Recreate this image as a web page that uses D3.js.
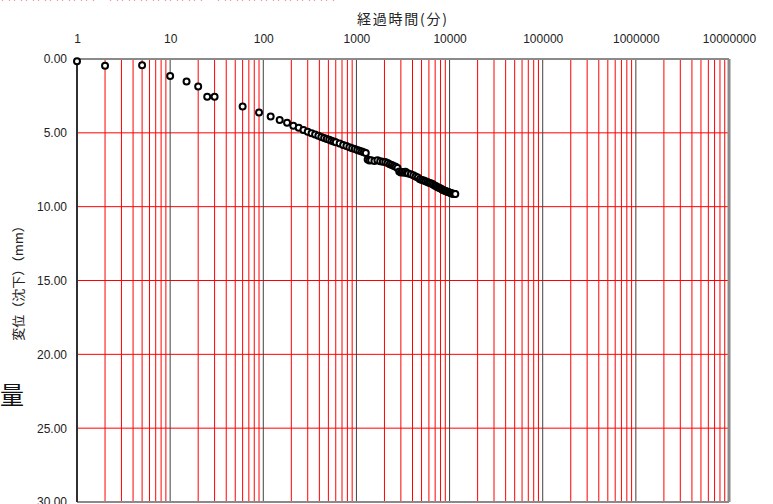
<!DOCTYPE html>
<html lang="ja">
<head>
<meta charset="UTF-8">
<title>経過時間と変位</title>
<script src="https://d3js.org/d3.v7.min.js"></script>
<style>
  body { margin: 0; background: #fff; }
  svg { display: block; font-family: "Liberation Sans", "Noto Sans CJK JP", sans-serif; }
</style>
</head>
<body>
<div id="chart"></div>
<script>
// elapsed time (min) and settlement (mm)
const times = [1, 2, 5, 10, 15, 20, 25, 30, 60, 90, 120, 150, 180, 210, 240, 270, 300, 330, 360, 390,
  420, 450, 480, 510, 540, 570, 600, 660, 720, 780, 840, 900, 960, 1020, 1080, 1140, 1200, 1260,
  1320, 1380, 1440, 1560, 1680, 1800, 1920, 2040, 2160, 2280, 2400, 2520, 2640, 2760, 2880, 3000,
  3120, 3240, 3360, 3480, 3600, 3840, 4080, 4320, 4560, 4800, 5040, 5280, 5520, 5760, 6000, 6240,
  6480, 6720, 6960, 7200, 7440, 7680, 7920, 8160, 8400, 8640, 8880, 9120, 9360, 9600, 9840, 10080,
  10320, 10560, 10800, 11040, 11280, 11520];
const settlement = [0.15, 0.45, 0.42, 1.15, 1.53, 1.87, 2.55, 2.55, 3.22, 3.62, 3.90, 4.13, 4.31, 4.52, 4.65, 4.80, 4.92, 5.02, 5.12, 5.20,
  5.28, 5.35, 5.41, 5.47, 5.53, 5.58, 5.64, 5.73, 5.82, 5.90, 5.97, 6.04, 6.10, 6.16, 6.22, 6.27, 6.32, 6.37,
  6.80, 6.88, 6.85, 6.90, 6.86, 6.92, 6.95, 6.98, 7.05, 7.12, 7.18, 7.25, 7.30, 7.38, 7.62, 7.68,
  7.66, 7.70, 7.64, 7.72, 7.75, 7.80, 7.88, 7.95, 8.02, 8.15, 8.20, 8.22, 8.28, 8.33, 8.38, 8.42,
  8.45, 8.52, 8.58, 8.62, 8.68, 8.72, 8.75, 8.80, 8.85, 8.88, 8.92, 8.95, 8.98, 9.00, 9.03, 9.05,
  9.07, 9.10, 9.12, 9.12, 9.14, 9.15];
const xTicks = [1, 10, 100, 1000, 10000, 100000, 1000000, 10000000];
const yTicks = [0, 5, 10, 15, 20, 25, 30];

const W = 773, H = 504;
const plot = { left: 77, right: 729, top: 59, bottom: 502 };

const svg = d3.select("#chart").append("svg")
  .attr("width", W).attr("height", H);

// red header text above, almost entirely outside the picture
svg.append("text")
  .attr("x", 0).attr("y", 0)
  .attr("fill", "#ee5555").attr("font-size", 12)
  .attr("font-family", "Noto Sans CJK JP, sans-serif")
  .text("日日日日日日日日　日日日日日日日日　日日日日日日日日日日");

const x = d3.scaleLog().domain([1, 1e7]).range([plot.left, plot.right]);
const y = d3.scaleLinear().domain([0, 30]).range([plot.top, plot.bottom]);

// minor vertical grid (red)
const minor = [];
for (let e = 0; e < 7; e++) {
  for (let k = 2; k <= 9; k++) minor.push(k * Math.pow(10, e));
}
svg.append("g").selectAll("line").data(minor).join("line")
  .attr("x1", d => x(d)).attr("x2", d => x(d))
  .attr("y1", plot.top).attr("y2", plot.bottom)
  .attr("stroke", "#ff0000").attr("stroke-width", 1);

// horizontal grid (red)
svg.append("g").selectAll("line").data(yTicks.slice(1, -1)).join("line")
  .attr("x1", plot.left).attr("x2", plot.right)
  .attr("y1", d => y(d)).attr("y2", d => y(d))
  .attr("stroke", "#ff0000").attr("stroke-width", 1);

// decade lines (dark)
svg.append("g").selectAll("line").data(xTicks.slice(1, -1)).join("line")
  .attr("x1", d => x(d)).attr("x2", d => x(d))
  .attr("y1", plot.top).attr("y2", plot.bottom)
  .attr("stroke", "#404040").attr("stroke-width", 1);

// frame
svg.append("line").attr("x1", plot.left).attr("x2", plot.right)
  .attr("y1", plot.top).attr("y2", plot.top)
  .attr("stroke", "#8a8a8a").attr("stroke-width", 2);
svg.append("line").attr("x1", plot.left).attr("x2", plot.right)
  .attr("y1", plot.bottom).attr("y2", plot.bottom)
  .attr("stroke", "#8a8a8a").attr("stroke-width", 2);
svg.append("line").attr("x1", plot.right).attr("x2", plot.right)
  .attr("y1", plot.top).attr("y2", plot.bottom)
  .attr("stroke", "#8a8a8a").attr("stroke-width", 3);
svg.append("line").attr("x1", plot.left).attr("x2", plot.left)
  .attr("y1", plot.top).attr("y2", plot.bottom)
  .attr("stroke", "#303030").attr("stroke-width", 2);

// top axis labels
const xAxis = d3.axisTop(x).tickValues(xTicks).tickFormat(d3.format("d")).tickSize(0).tickPadding(0);
svg.append("g").attr("transform", `translate(0,${plot.top - 16})`).call(xAxis)
  .call(g => g.select(".domain").remove())
  .selectAll("text").attr("font-size", 12).attr("fill", "#222")
  .attr("font-family", "Liberation Sans, sans-serif");

// left axis labels
const yAxis = d3.axisLeft(y).tickValues(yTicks).tickFormat(d3.format(".2f")).tickSize(0).tickPadding(10);
svg.append("g").attr("transform", `translate(${plot.left},0)`).call(yAxis)
  .call(g => g.select(".domain").remove())
  .selectAll("text").attr("font-size", 12).attr("fill", "#222")
  .attr("font-family", "Liberation Sans, sans-serif");

// titles
svg.append("text").attr("x", 402).attr("y", 24)
  .attr("text-anchor", "middle").attr("font-size", 14).attr("fill", "#222")
  .attr("font-family", "Noto Sans CJK JP, sans-serif")
  .attr("textLength", 90).attr("lengthAdjust", "spacing")
  .text("経過時間(分)");

svg.append("text")
  .attr("transform", "translate(23,280) rotate(-90)")
  .attr("text-anchor", "middle").attr("font-size", 13).attr("fill", "#222")
  .attr("font-family", "Noto Sans CJK JP, sans-serif")
  .text("変位（沈下）（mm）");

svg.append("text").attr("x", 12).attr("y", 404)
  .attr("text-anchor", "middle").attr("font-size", 24).attr("fill", "#111")
  .attr("font-family", "Noto Sans CJK JP, sans-serif")
  .text("量");

// data points
const pts = times.map((t, i) => ({ t, v: settlement[i] }));
svg.append("g").selectAll("circle").data(pts).join("circle")
  .attr("cx", d => x(d.t)).attr("cy", d => y(d.v))
  .attr("r", 3)
  .attr("fill", "#fff").attr("stroke", "#000").attr("stroke-width", 2);
</script>
</body>
</html>
